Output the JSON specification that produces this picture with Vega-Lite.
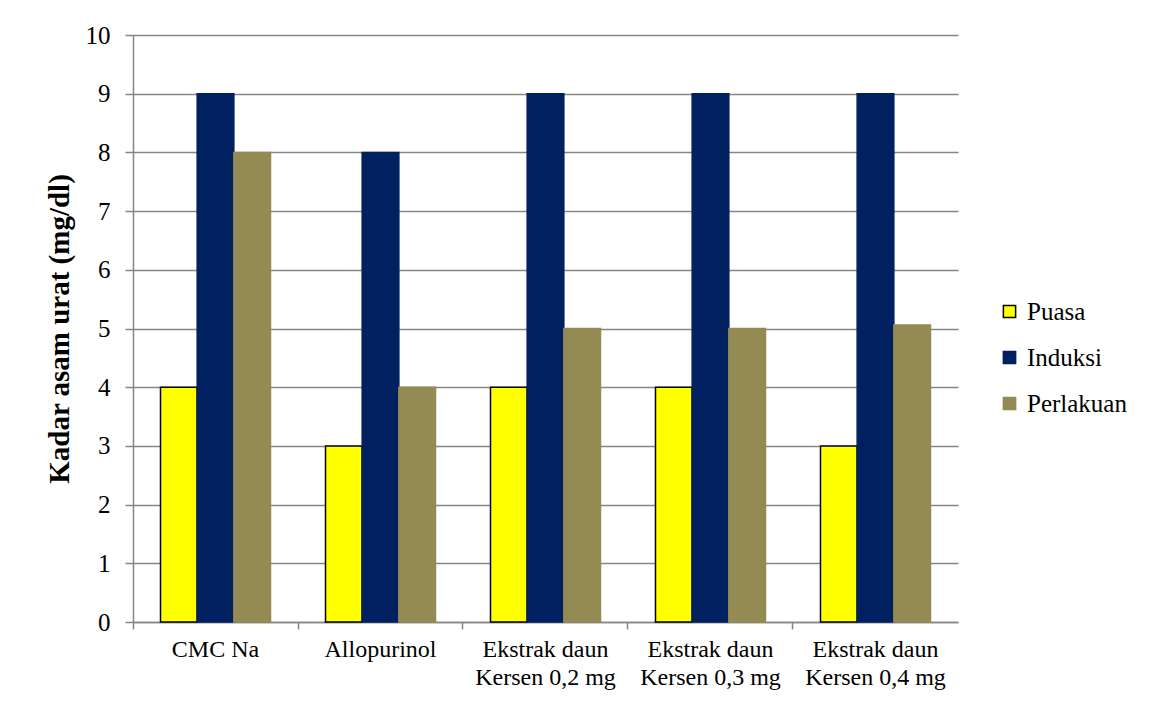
{
  "$schema": "https://vega.github.io/schema/vega-lite/v6.json",
  "width": 825,
  "height": 587,
  "autosize": {"type": "none"},
  "padding": {"left": 133, "top": 35, "right": 201, "bottom": 79},
  "background": "white",
  "config": {
    "font": "'Liberation Serif', 'Times New Roman', serif",
    "view": {"stroke": null}
  },
  "data": {
    "values": [
      {"kelompok": "CMC Na", "seri": "Puasa", "kadar": 4},
      {"kelompok": "CMC Na", "seri": "Induksi", "kadar": 9},
      {"kelompok": "CMC Na", "seri": "Perlakuan", "kadar": 8},
      {"kelompok": "Allopurinol", "seri": "Puasa", "kadar": 3},
      {"kelompok": "Allopurinol", "seri": "Induksi", "kadar": 8},
      {"kelompok": "Allopurinol", "seri": "Perlakuan", "kadar": 4},
      {"kelompok": "Ekstrak daun|Kersen 0,2 mg", "seri": "Puasa", "kadar": 4},
      {"kelompok": "Ekstrak daun|Kersen 0,2 mg", "seri": "Induksi", "kadar": 9},
      {"kelompok": "Ekstrak daun|Kersen 0,2 mg", "seri": "Perlakuan", "kadar": 5},
      {"kelompok": "Ekstrak daun|Kersen 0,3 mg", "seri": "Puasa", "kadar": 4},
      {"kelompok": "Ekstrak daun|Kersen 0,3 mg", "seri": "Induksi", "kadar": 9},
      {"kelompok": "Ekstrak daun|Kersen 0,3 mg", "seri": "Perlakuan", "kadar": 5},
      {"kelompok": "Ekstrak daun|Kersen 0,4 mg", "seri": "Puasa", "kadar": 3},
      {"kelompok": "Ekstrak daun|Kersen 0,4 mg", "seri": "Induksi", "kadar": 9},
      {"kelompok": "Ekstrak daun|Kersen 0,4 mg", "seri": "Perlakuan", "kadar": 5.06}
    ]
  },
  "mark": {"type": "bar", "strokeWidth": 1.5},
  "encoding": {
    "x": {
      "field": "kelompok",
      "type": "nominal",
      "sort": null,
      "scale": {"paddingInner": 0.3333, "paddingOuter": 0.1667},
      "axis": {
        "title": null,
        "labelAngle": 0,
        "labelExpr": "split(datum.label, '|')",
        "labelFont": "'Liberation Serif', 'Times New Roman', serif",
        "labelFontSize": 24,
        "labelColor": "black",
        "labelLineHeight": 28,
        "labelPadding": 8,
        "labelBaseline": "top",
        "tickSize": 7,
        "tickColor": "#868686",
        "tickWidth": 1.5,
        "bandPosition": -0.25,
        "domainColor": "#868686",
        "domainWidth": 1.5,
        "grid": false
      }
    },
    "xOffset": {
      "field": "seri",
      "type": "nominal",
      "sort": ["Puasa", "Induksi", "Perlakuan"],
      "scale": {"paddingInner": 0, "paddingOuter": 0}
    },
    "y": {
      "field": "kadar",
      "type": "quantitative",
      "scale": {"domain": [0, 10], "nice": false},
      "axis": {
        "title": "Kadar asam urat (mg/dl)",
        "titleFont": "'Liberation Serif', 'Times New Roman', serif",
        "titleFontSize": 29,
        "titleFontWeight": "bold",
        "titleColor": "black",
        "titlePadding": 11,
        "values": [0, 1, 2, 3, 4, 5, 6, 7, 8, 9, 10],
        "labelFont": "'Liberation Serif', 'Times New Roman', serif",
        "labelFontSize": 25,
        "labelColor": "black",
        "labelPadding": 15,
        "tickSize": 8,
        "tickColor": "#868686",
        "tickWidth": 1.5,
        "domainColor": "#868686",
        "domainWidth": 1.5,
        "grid": true,
        "gridColor": "#868686",
        "gridWidth": 1.5
      }
    },
    "color": {
      "field": "seri",
      "type": "nominal",
      "sort": ["Puasa", "Induksi", "Perlakuan"],
      "scale": {"domain": ["Puasa", "Induksi", "Perlakuan"], "range": ["#FFFF00", "#002060", "#948A54"]},
      "legend": {
        "title": null,
        "orient": "none",
        "legendX": 864,
        "legendY": 264,
        "symbolType": "square",
        "symbolSize": 150,
        "symbolStrokeWidth": 1.5,
        "symbolOpacity": 1,
        "labelFont": "'Liberation Serif', 'Times New Roman', serif",
        "labelFontSize": 25,
        "labelColor": "black",
        "labelOffset": 5,
        "rowPadding": 20
      }
    },
    "stroke": {
      "field": "seri",
      "type": "nominal",
      "sort": ["Puasa", "Induksi", "Perlakuan"],
      "scale": {"domain": ["Puasa", "Induksi", "Perlakuan"], "range": ["#000000", "#002060", "#948A54"]},
      "legend": {
        "title": null,
        "orient": "none",
        "legendX": 864,
        "legendY": 264,
        "symbolType": "square",
        "symbolSize": 150,
        "symbolStrokeWidth": 1.5,
        "labelFont": "'Liberation Serif', 'Times New Roman', serif",
        "labelFontSize": 25,
        "labelColor": "black",
        "labelOffset": 5,
        "rowPadding": 20
      }
    }
  }
}
